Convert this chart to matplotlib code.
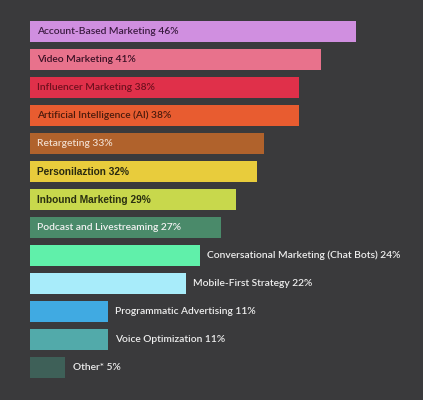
from matplotlib import pyplot as plt

# data
labels = ["Account-Based Marketing", "Video Marketing", "Influencer Marketing",
          "Artificial Intelligence (AI)", "Retargeting", "Personilaztion",
          "Inbound Marketing", "Podcast and Livestreaming",
          "Conversational Marketing (Chat Bots)", "Mobile-First Strategy",
          "Programmatic Advertising", "Voice Optimization", "Other*"]
values = [46, 41, 38, 38, 33, 32, 29, 27, 24, 22, 11, 11, 5]
bar_colors = ["#d08fe0", "#e8728c", "#e0304a", "#e85c30", "#b0622c", "#e8cc3c",
              "#c8d84c", "#4a8a6a", "#60f0aa", "#a8ecfa", "#40aae2", "#52aaaa", "#3e6058"]
text_colors = ["#3a1a40", "#3a1024", "#70101e", "#4a1a0c", "#f0dccc", "#2a2a10",
               "#2a3010", "#f2f2f2", "#eeeeee", "#eeeeee", "#eeeeee", "#eeeeee", "#eeeeee"]
inside = [True] * 8 + [False] * 5
bold = [False, False, False, False, False, True, True, False,
        False, False, False, False, False]

bg = "#3a3a3c"


def main():
    fig = plt.figure(figsize=(4.23, 4.0), dpi=100)
    fig.patch.set_facecolor(bg)
    ax = fig.add_axes([30 / 423, 0, 1 - 30 / 423, 1])
    ax.set_facecolor(bg)

    ys = range(len(values))
    ax.barh(ys, values, height=0.75, color=bar_colors)

    for i, (lab, v) in enumerate(zip(labels, values)):
        txt = "{} {}%".format(lab, v)
        if bold[i]:
            kw = dict(family="Liberation Sans", fontweight="bold", fontsize=7.3)
        else:
            kw = dict(family="Lato", fontweight="semibold", fontsize=7.4)
        if inside[i]:
            ax.text(1.0, i, txt, color=text_colors[i], va="center", ha="left", **kw)
        else:
            ax.text(v + 1.0, i, txt, color=text_colors[i], va="center", ha="left", **kw)

    ax.set_xlim(0, 393 / 7.087)
    ax.set_ylim(13.16, -1.125)
    ax.axis("off")

    fig.savefig("out.png", dpi=100, facecolor=bg)


if __name__ == "__main__":
    main()
